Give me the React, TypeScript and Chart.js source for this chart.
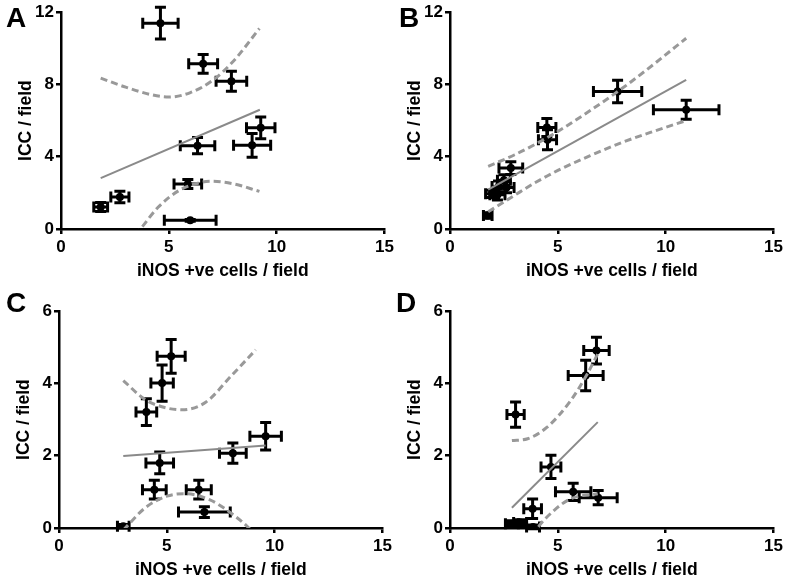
import React, { useEffect, useRef } from "react";
import { Chart, registerables } from "chart.js";
Chart.register(...registerables);

const FONT = "'Liberation Sans', Arial, Helvetica, sans-serif";
const X_TITLE = "iNOS +ve cells / field";
const Y_TITLE = "ICC / field";
const xTicks = [0, 5, 10, 15];

// Panel A
const aX = [4.61, 6.59, 7.9, 9.26, 8.86, 6.33, 5.88, 5.99, 2.73, 1.84];
const aY = [11.39, 9.14, 8.18, 5.6, 4.63, 4.61, 2.49, 0.48, 1.77, 1.22];
const aXErr = [0.82, 0.67, 0.71, 0.66, 0.86, 0.8, 0.64, 1.2, 0.42, 0.32];
const aYErr = [0.88, 0.52, 0.55, 0.6, 0.66, 0.45, 0.25, 0.05, 0.32, 0.25];
const aFitX = [1.84, 9.22];
const aFitY = [2.82, 6.6];
const aUpX = [1.84, 3.0, 4.2, 5.0, 6.0, 7.0, 8.0, 9.2];
const aUpY = [8.35, 7.85, 7.43, 7.3, 7.55, 8.2, 9.3, 11.1];
const aLoX = [1.84, 3.0, 3.72, 4.5, 5.5, 6.5, 7.0, 8.0, 9.2];
const aLoY = [-2.7, -1.0, 0.05, 1.2, 2.15, 2.58, 2.64, 2.5, 2.08];

// Panel B
const bX = [7.77, 10.95, 4.49, 4.52, 2.82, 2.5, 2.25, 2.62, 1.95, 2.2, 1.75];
const bY = [7.61, 6.6, 5.62, 4.94, 3.37, 2.7, 2.35, 2.3, 1.95, 1.9, 0.75];
const bXErr = [1.12, 1.52, 0.42, 0.42, 0.55, 0.3, 0.3, 0.35, 0.3, 0.35, 0.2];
const bYErr = [0.62, 0.53, 0.5, 0.55, 0.35, 0.3, 0.3, 0.3, 0.2, 0.3, 0.15];
const bFitX = [1.77, 10.95];
const bFitY = [2.18, 8.26];
const bUpX = [1.77, 3.0, 4.0, 5.0, 6.5, 8.0, 9.5, 10.95];
const bUpY = [3.47, 4.11, 4.72, 5.4, 6.56, 7.8, 9.17, 10.56];
const bLoX = [1.77, 3.0, 4.0, 5.0, 6.5, 8.0, 9.5, 10.95];
const bLoY = [0.95, 1.87, 2.6, 3.24, 4.06, 4.8, 5.43, 6.0];

// Panel C
const cX = [5.2, 4.78, 4.05, 4.67, 4.42, 6.48, 6.74, 8.06, 9.58, 2.98];
const cY = [4.75, 4.01, 3.21, 1.8, 1.06, 1.06, 0.44, 2.07, 2.54, 0.05];
const cXErr = [0.65, 0.52, 0.48, 0.64, 0.55, 0.58, 1.2, 0.62, 0.73, 0.27];
const cYErr = [0.47, 0.5, 0.37, 0.3, 0.26, 0.26, 0.15, 0.28, 0.38, 0.05];
const cFitX = [2.98, 9.58];
const cFitY = [1.99, 2.28];
const cUpX = [2.98, 4.0, 5.0, 5.7, 6.8, 8.0, 9.12];
const cUpY = [4.08, 3.55, 3.32, 3.27, 3.48, 4.22, 4.93];
const cLoX = [2.98, 4.0, 5.0, 5.8, 7.0, 8.0, 8.8, 9.5];
const cLoY = [-0.06, 0.56, 0.88, 0.95, 0.78, 0.4, 0.0, -0.5];

// Panel D
const dX = [6.79, 6.29, 3.04, 4.68, 5.71, 6.87, 3.83, 2.87, 3.25, 3.85];
const dY = [4.91, 4.22, 3.14, 1.69, 1.0, 0.84, 0.53, 0.12, 0.15, 0.03];
const dXErr = [0.59, 0.81, 0.4, 0.46, 0.82, 0.88, 0.41, 0.3, 0.3, 0.3];
const dYErr = [0.37, 0.42, 0.35, 0.32, 0.24, 0.2, 0.27, 0.08, 0.08, 0.05];
const dFitX = [2.87, 6.85];
const dFitY = [0.56, 2.93];
const dUpX = [2.87, 3.6, 4.5, 5.6, 6.37, 6.85];
const dUpY = [2.42, 2.47, 2.79, 3.53, 4.27, 4.82];
const dLoX = [2.87, 3.5, 4.06, 4.83, 5.6, 6.85];
const dLoY = [-1.3, -0.57, 0.0, 0.49, 0.81, 0.95];

const zip = (xs: number[], ys: number[]) => xs.map((x, i) => ({ x, y: ys[i] }));

const errorBarPlugin = {
  id: "errorBars",
  afterDatasetDraw(chart: any, args: any) {
    const ds = chart.data.datasets[args.index];
    if (!ds.xErr) return;
    const xs = chart.scales.x;
    const ys = chart.scales.y;
    const ctx = chart.ctx;
    const cap = 5.5;
    ctx.save();
    ctx.strokeStyle = "#000";
    ctx.lineWidth = 3;
    ds.data.forEach((p: any, i: number) => {
      const cx = xs.getPixelForValue(p.x);
      const cy = ys.getPixelForValue(p.y);
      const x1 = xs.getPixelForValue(p.x - ds.xErr[i]);
      const x2 = xs.getPixelForValue(p.x + ds.xErr[i]);
      const y1 = ys.getPixelForValue(p.y - ds.yErr[i]);
      const y2 = ys.getPixelForValue(p.y + ds.yErr[i]);
      ctx.beginPath();
      ctx.moveTo(x1, cy); ctx.lineTo(x2, cy);
      ctx.moveTo(x1, cy - cap); ctx.lineTo(x1, cy + cap);
      ctx.moveTo(x2, cy - cap); ctx.lineTo(x2, cy + cap);
      ctx.moveTo(cx, y1); ctx.lineTo(cx, y2);
      ctx.moveTo(cx - cap, y1); ctx.lineTo(cx + cap, y1);
      ctx.moveTo(cx - cap, y2); ctx.lineTo(cx + cap, y2);
      ctx.stroke();
    });
    ctx.restore();
  },
};

type PanelProps = {
  left: number; top: number; letter: string; letterLeft: number; letterTop: number;
  yMax: number; yStep: number;
  px: number[]; py: number[]; pxe: number[]; pye: number[];
  fx: number[]; fy: number[]; ux: number[]; uy: number[]; lx: number[]; ly: number[];
};

function Panel(p: PanelProps) {
  const ref = useRef<HTMLCanvasElement>(null);
  useEffect(() => {
    if (!ref.current) return;
    const tickFont = { family: FONT, size: 17, weight: "bold" as const };
    const titleFont = { family: FONT, size: 17.5, weight: "bold" as const };
    const axisCommon = {
      grid: { display: true, drawOnChartArea: false, drawTicks: true, tickLength: 5, color: "#000", lineWidth: 2.5 },
      border: { display: true, color: "#000", width: 2.5 },
    };
    const chart = new Chart(ref.current, {
      type: "scatter",
      data: {
        datasets: [
          {
            data: zip(p.fx, p.fy), showLine: true, pointRadius: 0,
            borderColor: "#8a8a8a", borderWidth: 2, order: 0,
          } as any,
          {
            data: zip(p.ux, p.uy), showLine: true, pointRadius: 0,
            borderColor: "#999", borderWidth: 3, borderDash: [7, 4],
            cubicInterpolationMode: "monotone", order: 0,
          } as any,
          {
            data: zip(p.lx, p.ly), showLine: true, pointRadius: 0,
            borderColor: "#999", borderWidth: 3, borderDash: [7, 4],
            cubicInterpolationMode: "monotone", order: 0,
          } as any,
          {
            data: zip(p.px, p.py), xErr: p.pxe, yErr: p.pye, showLine: false,
            pointRadius: 4, pointBackgroundColor: "#000", pointBorderWidth: 0, order: 1,
          } as any,
        ],
      },
      options: {
        animation: false,
        responsive: false,
        events: [],
        layout: { padding: { left: 0, top: 12, right: 10, bottom: 0 } },
        plugins: { legend: { display: false }, tooltip: { enabled: false } },
        scales: {
          x: {
            type: "linear", min: 0, max: 15,
            afterBuildTicks: (s: any) => { s.ticks = xTicks.map((v) => ({ value: v })); },
            ticks: { font: tickFont, color: "#000", padding: 3, maxRotation: 0, autoSkip: false },
            title: { display: true, text: X_TITLE, font: titleFont, color: "#000", padding: { top: 0, bottom: 8 } },
            afterFit: (s: any) => { s.height = 61; },
            ...axisCommon,
          },
          y: {
            type: "linear", min: 0, max: p.yMax,
            ticks: { stepSize: p.yStep, font: tickFont, color: "#000", padding: 2 },
            title: { display: true, text: Y_TITLE, font: titleFont, color: "#000", padding: { top: 16, bottom: 0 } },
            afterFit: (s: any) => { s.width = 61; },
            ...axisCommon,
          },
        },
      } as any,
      plugins: [errorBarPlugin],
    });
    return () => chart.destroy();
  }, []);
  return (
    <>
      <canvas
        ref={ref}
        width={397}
        height={290}
        style={{ position: "absolute", left: p.left, top: p.top, width: 397, height: 290 }}
      />
      <div
        style={{
          position: "absolute", left: p.letterLeft, top: p.letterTop, fontFamily: FONT,
          fontWeight: "bold", fontSize: 28, lineHeight: "28px", color: "#000",
        }}
      >
        {p.letter}
      </div>
    </>
  );
}

export default function App() {
  return (
    <div
      style={{
        position: "fixed", left: 0, top: 0, width: 795, height: 581,
        overflow: "hidden", background: "#fff",
      }}
    >
      <Panel left={0} top={0} letter="A" letterLeft={6} letterTop={4} yMax={12} yStep={4}
        px={aX} py={aY} pxe={aXErr} pye={aYErr} fx={aFitX} fy={aFitY} ux={aUpX} uy={aUpY} lx={aLoX} ly={aLoY} />
      <Panel left={389} top={0} letter="B" letterLeft={399} letterTop={4} yMax={12} yStep={4}
        px={bX} py={bY} pxe={bXErr} pye={bYErr} fx={bFitX} fy={bFitY} ux={bUpX} uy={bUpY} lx={bLoX} ly={bLoY} />
      <Panel left={-2} top={299} letter="C" letterLeft={6} letterTop={289} yMax={6} yStep={2}
        px={cX} py={cY} pxe={cXErr} pye={cYErr} fx={cFitX} fy={cFitY} ux={cUpX} uy={cUpY} lx={cLoX} ly={cLoY} />
      <Panel left={389} top={299} letter="D" letterLeft={396} letterTop={289} yMax={6} yStep={2}
        px={dX} py={dY} pxe={dXErr} pye={dYErr} fx={dFitX} fy={dFitY} ux={dUpX} uy={dUpY} lx={dLoX} ly={dLoY} />
    </div>
  );
}
